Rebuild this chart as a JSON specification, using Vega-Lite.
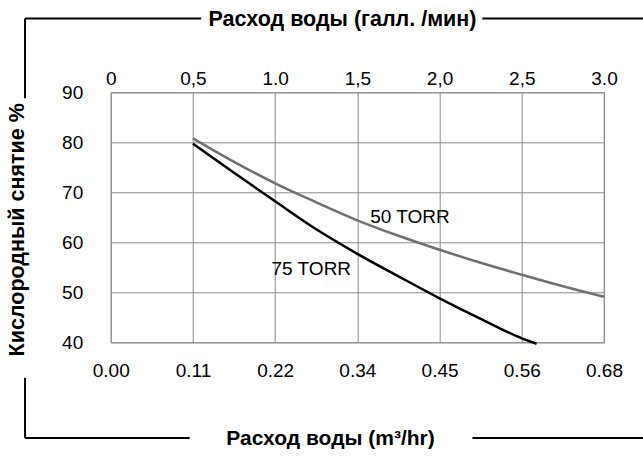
{
  "$schema": "https://vega.github.io/schema/vega-lite/v6.json",
  "width": 493.3,
  "height": 250,
  "autosize": {"type": "none"},
  "padding": {"left": 110.7, "top": 92.3, "right": 39, "bottom": 117.7},
  "background": "white",
  "config": {
    "view": {"stroke": "#8a8a8a", "strokeWidth": 1},
    "font": "Liberation Sans"
  },
  "datasets": {
    "curves": [
      {"series": "50 TORR", "gpm": 0.5, "pct": 80.8},
      {"series": "50 TORR", "gpm": 0.75, "pct": 76.1},
      {"series": "50 TORR", "gpm": 1.0, "pct": 71.8},
      {"series": "50 TORR", "gpm": 1.25, "pct": 68.0},
      {"series": "50 TORR", "gpm": 1.5, "pct": 64.4},
      {"series": "50 TORR", "gpm": 1.75, "pct": 61.3},
      {"series": "50 TORR", "gpm": 2.0, "pct": 58.5},
      {"series": "50 TORR", "gpm": 2.25, "pct": 55.9},
      {"series": "50 TORR", "gpm": 2.5, "pct": 53.5},
      {"series": "50 TORR", "gpm": 2.75, "pct": 51.2},
      {"series": "50 TORR", "gpm": 3.0, "pct": 49.1},
      {"series": "75 TORR", "gpm": 0.5, "pct": 79.7},
      {"series": "75 TORR", "gpm": 0.75, "pct": 73.9},
      {"series": "75 TORR", "gpm": 1.0, "pct": 68.2},
      {"series": "75 TORR", "gpm": 1.25, "pct": 62.6},
      {"series": "75 TORR", "gpm": 1.5, "pct": 57.7},
      {"series": "75 TORR", "gpm": 1.75, "pct": 53.2},
      {"series": "75 TORR", "gpm": 2.0, "pct": 48.8},
      {"series": "75 TORR", "gpm": 2.25, "pct": 44.7},
      {"series": "75 TORR", "gpm": 2.5, "pct": 40.8},
      {"series": "75 TORR", "gpm": 2.59, "pct": 39.7}
    ],
    "notes": [
      {"label": "50 TORR", "gpm": 1.82, "pct": 65.1},
      {"label": "75 TORR", "gpm": 1.22, "pct": 54.7}
    ],
    "frame": [
      {"xa": -0.521, "xb": 0.55, "ya": 104.76, "yb": 104.76},
      {"xa": 2.26, "xb": 3.25, "ya": 104.76, "yb": 104.76},
      {"xa": -0.521, "xb": -0.521, "ya": 104.76, "yb": 88.8},
      {"xa": -0.521, "xb": -0.521, "ya": 32.9, "yb": 20.86},
      {"xa": -0.521, "xb": 0.48, "ya": 20.86, "yb": 20.86},
      {"xa": 2.2, "xb": 3.25, "ya": 20.86, "yb": 20.86}
    ]
  },
  "resolve": {"axis": {"x": "independent", "y": "independent"}},
  "layer": [
    {
      "data": {"name": "curves"},
      "mark": {"type": "line", "strokeWidth": 2.5, "interpolate": "monotone"},
      "encoding": {
        "x": {
          "field": "gpm", "type": "quantitative",
          "scale": {"domain": [0, 3], "nice": false, "zero": false},
          "axis": {
            "orient": "bottom",
            "values": [0, 0.5, 1, 1.5, 2, 2.5, 3],
            "labelExpr": "['0.00','0.11','0.22','0.34','0.45','0.56','0.68'][round(datum.value*2)]",
            "domain": false, "ticks": false, "tickSize": 0,
            "labelPadding": 19, "labelFontSize": 19, "labelColor": "#000000",
            "labelFlush": false, "labelOverlap": false,
            "grid": true, "gridColor": "#8a8a8a", "gridOpacity": 1, "gridWidth": 1,
            "title": "Расход воды (m³/hr)",
            "titleFontSize": 21, "titleFontWeight": "bold", "titleColor": "#000000",
            "titleX": 219.3, "titleY": 95.7, "titleBaseline": "middle", "titleAlign": "center"
          }
        },
        "y": {
          "field": "pct", "type": "quantitative",
          "scale": {"domain": [40, 90], "nice": false, "zero": false},
          "axis": {
            "values": [40, 50, 60, 70, 80, 90],
            "domain": false, "ticks": false, "tickSize": 0,
            "labelPadding": 28, "labelFontSize": 19, "labelColor": "#000000",
            "labelFlush": false, "labelOverlap": false,
            "grid": true, "gridColor": "#8a8a8a", "gridOpacity": 1, "gridWidth": 1,
            "title": "Кислородный снятие %",
            "titleFontSize": 21.5, "titleFontWeight": "bold", "titleColor": "#000000",
            "titleAngle": -90, "titleX": -93.2, "titleY": 137,
            "titleBaseline": "middle", "titleAlign": "center"
          }
        },
        "color": {
          "field": "series", "type": "nominal",
          "scale": {"domain": ["50 TORR", "75 TORR"], "range": ["#707070", "#000000"]},
          "legend": null
        }
      }
    },
    {
      "data": {"name": "notes"},
      "mark": {"type": "text", "fontSize": 19, "color": "#000000", "align": "center", "baseline": "middle", "font": "Liberation Sans"},
      "encoding": {
        "x": {
          "field": "gpm", "type": "quantitative",
          "scale": {"domain": [0, 3], "nice": false, "zero": false},
          "axis": {
            "orient": "top",
            "values": [0, 0.5, 1, 1.5, 2, 2.5, 3],
            "labelExpr": "['0','0,5','1.0','1,5','2,0','2,5','3.0'][round(datum.value*2)]",
            "domain": false, "ticks": false, "tickSize": 0, "grid": false,
            "labelPadding": 4, "labelFontSize": 19, "labelColor": "#000000",
            "labelFlush": false, "labelOverlap": false,
            "title": "Расход воды (галл. /мин)",
            "titleFontSize": 21.5, "titleFontWeight": "bold", "titleColor": "#000000",
            "titleX": 231.3, "titleY": -73.3, "titleBaseline": "middle", "titleAlign": "center"
          }
        },
        "y": {
          "field": "pct", "type": "quantitative",
          "scale": {"domain": [40, 90], "nice": false, "zero": false},
          "axis": null
        },
        "text": {"field": "label", "type": "nominal"}
      }
    },
    {
      "data": {"name": "frame"},
      "mark": {"type": "rule", "color": "#000000", "strokeWidth": 2, "clip": false},
      "encoding": {
        "x": {"field": "xa", "type": "quantitative", "scale": {"domain": [0, 3], "nice": false, "zero": false}, "axis": null},
        "x2": {"field": "xb"},
        "y": {"field": "ya", "type": "quantitative", "scale": {"domain": [40, 90], "nice": false, "zero": false}, "axis": null},
        "y2": {"field": "yb"}
      }
    }
  ]
}
